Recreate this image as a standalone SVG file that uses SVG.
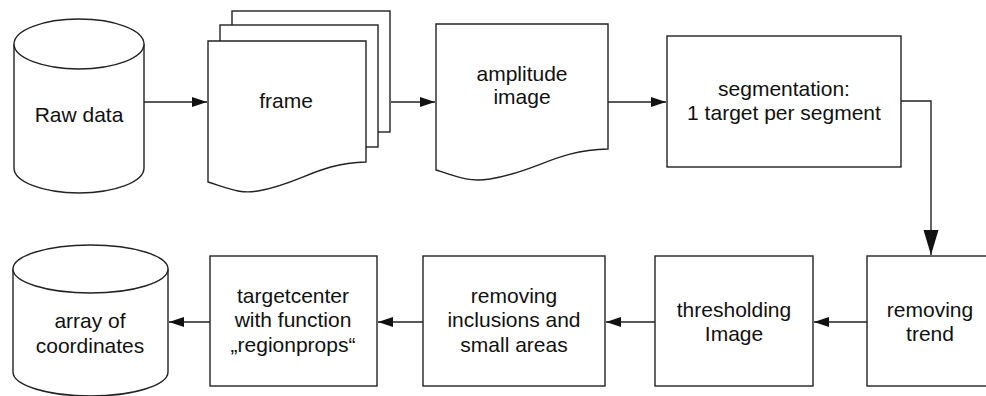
<svg xmlns="http://www.w3.org/2000/svg" width="986" height="396" viewBox="0 0 986 396">
  <style>
    .shape { fill: #ffffff; stroke: #222222; stroke-width: 1.4; }
    .edge { fill: none; stroke: #222222; stroke-width: 1.4; }
    .label { font-family: "Liberation Sans", Arial, sans-serif; font-size: 21px; fill: #111111; text-anchor: middle; }
  </style>
  <defs>
    <marker id="arrow" markerUnits="userSpaceOnUse" markerWidth="16" markerHeight="11" refX="15" refY="5" orient="auto">
      <path d="M0,0 L15,5 L0,10 z" fill="#111111"/>
    </marker>
    <marker id="arrow-big" markerUnits="userSpaceOnUse" markerWidth="26" markerHeight="16" refX="25" refY="7.5" orient="auto">
      <path d="M0,0 L25,7.5 L0,15 z" fill="#111111"/>
    </marker>
  </defs>

  <rect width="986" height="396" fill="#ffffff"/>

  <!-- connectors -->
  <g id="connectors">
    <path class="edge" d="M144,102 H207" marker-end="url(#arrow)"/>
    <path class="edge" d="M391,102 H435" marker-end="url(#arrow)"/>
    <path class="edge" d="M608,102 H666" marker-end="url(#arrow)"/>
    <path class="edge" d="M901,101 H931 V255" marker-end="url(#arrow-big)"/>
    <path class="edge" d="M867,322 H814" marker-end="url(#arrow)"/>
    <path class="edge" d="M655,322 H606" marker-end="url(#arrow)"/>
    <path class="edge" d="M423,322 H378" marker-end="url(#arrow)"/>
    <path class="edge" d="M210,322 H169" marker-end="url(#arrow)"/>
  </g>

  <!-- database: raw data -->
  <g id="raw-data">
    <path class="shape" d="M14,44 V168 A65,25 0 0 0 144,168 V44"/>
    <ellipse class="shape" cx="79" cy="44" rx="65" ry="25"/>
    <text class="label" x="79" y="122">Raw data</text>
  </g>

  <!-- stacked documents: frame -->
  <g id="frame">
    <rect class="shape" x="232" y="11" width="158" height="121"/>
    <rect class="shape" x="220" y="25" width="158" height="122"/>
    <path class="shape" d="M208,41 H366 V162 C318,163 300,184 258,191 C240,194 230,189 208,182 Z"/>
    <text class="label" x="286" y="108">frame</text>
  </g>

  <!-- document: amplitude image -->
  <g id="amplitude-image">
    <path class="shape" d="M436,24 H608 V149 C556,150 536,172 490,179 C470,182 460,178 436,170 Z"/>
    <text class="label" x="522" y="81">amplitude</text>
    <text class="label" x="522" y="104">image</text>
  </g>

  <!-- process: segmentation -->
  <g id="segmentation">
    <rect class="shape" x="667" y="36" width="234" height="131"/>
    <text class="label" x="784" y="96">segmentation:</text>
    <text class="label" x="784" y="120">1 target per segment</text>
  </g>

  <!-- process: removing trend -->
  <g id="removing-trend">
    <rect class="shape" x="867" y="256" width="130" height="130"/>
    <text class="label" x="930" y="317">removing</text>
    <text class="label" x="930" y="341">trend</text>
  </g>

  <!-- process: thresholding -->
  <g id="thresholding">
    <rect class="shape" x="655" y="256" width="158" height="130"/>
    <text class="label" x="734" y="317">thresholding</text>
    <text class="label" x="734" y="341">Image</text>
  </g>

  <!-- process: removing inclusions -->
  <g id="removing-inclusions">
    <rect class="shape" x="423" y="256" width="182" height="130"/>
    <text class="label" x="514" y="303">removing</text>
    <text class="label" x="514" y="327">inclusions and</text>
    <text class="label" x="514" y="352">small areas</text>
  </g>

  <!-- process: target center -->
  <g id="targetcenter">
    <rect class="shape" x="210" y="256" width="167" height="130"/>
    <text class="label" x="293" y="303">targetcenter</text>
    <text class="label" x="293" y="327">with function</text>
    <text class="label" x="293" y="352">„regionprops“</text>
  </g>

  <!-- database: array of coordinates -->
  <g id="array-of-coordinates">
    <path class="shape" d="M13,269 V372 A77.5,24 0 0 0 168,372 V269"/>
    <ellipse class="shape" cx="90.5" cy="269" rx="77.5" ry="24"/>
    <text class="label" x="90" y="328">array of</text>
    <text class="label" x="90" y="353">coordinates</text>
  </g>
</svg>
